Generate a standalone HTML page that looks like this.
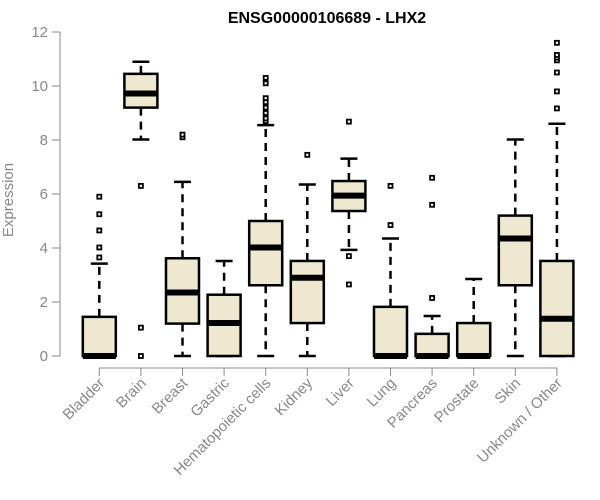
<!DOCTYPE html>
<html><head><meta charset="utf-8"><style>
body{margin:0;background:#fff}
svg{display:block;font-family:"Liberation Sans",Arial,sans-serif}
</style></head><body>
<svg id="chart" width="600" height="500" viewBox="0 0 600 500">
<text x="327" y="23" text-anchor="middle" font-size="16" font-weight="bold">ENSG00000106689 - LHX2</text>
<text transform="translate(13,200) rotate(-90)" text-anchor="middle" font-size="15" fill="#888">Expression</text>
<g id="axes"></g><g id="marks"></g>
</svg>
<script>
const categories=["Bladder","Brain","Breast","Gastric","Hematopoietic cells","Kidney","Liver","Lung","Pancreas","Prostate","Skin","Unknown / Other"];
const mins=[0,8.02,0,0,0,0,3.93,0,0,0,0,0];
const q1s=[0,9.2,1.2,0,2.62,1.22,5.37,0,0,0,2.62,0];
const medians=[0,9.72,2.35,1.22,4.02,2.9,5.94,0,0,0,4.35,1.38];
const q3s=[1.45,10.45,3.62,2.27,5.0,3.52,6.48,1.82,0.82,1.22,5.2,3.52];
const maxs=[3.42,10.9,6.45,3.52,8.55,6.35,7.31,4.35,1.48,2.85,8.02,8.6];
const outliers=[[3.65,4.02,4.65,5.25,5.9],[6.3,1.05,0],[8.1,8.2],[],[8.7,8.8,9.0,9.2,9.4,9.55,10.1,10.3],[7.45],[8.68,3.7,2.65],[4.85,6.3],[2.15,5.6,6.6],[],[],[9.17,9.8,10.5,10.95,11.05,11.15,11.6]];
const yTicks=[0,2,4,6,8,10,12];
const NS="http://www.w3.org/2000/svg";
const y=v=>356-v*27;
const x=i=>99.3+i*41.6;
const axes=document.getElementById('axes'),marks=document.getElementById('marks');
function mk(tag,attrs,parent){const e=document.createElementNS(NS,tag);for(const k in attrs)e.setAttribute(k,attrs[k]);parent.appendChild(e);return e;}
let yl=mk('line',{x1:60,x2:60,y1:y(0),y2:y(12),stroke:'#888'},axes);


yTicks.forEach(t=>{
  let l=mk('line',{x1:52,x2:60,y1:y(t),y2:y(t),stroke:'#888'},axes);
  
  
  let tx=mk('text',{x:48,y:y(t)+5,'text-anchor':'end','font-size':15,fill:'#888'},axes);
  tx.textContent=t;
  
  
});
let xl=mk('line',{x1:x(0),x2:x(categories.length-1),y1:368,y2:368,stroke:'#888'},axes);


const hw=16.5;
categories.forEach((c,i)=>{
  const cx=x(i);
  let t=mk('line',{x1:cx,x2:cx,y1:368,y2:376,stroke:'#888'},axes);
  
  
  let lb=mk('text',{transform:`translate(${cx+6},${384}) rotate(-45)`,'text-anchor':'end','font-size':15,fill:'#888'},axes);
  lb.textContent=c;
  
  
  const g=mk('g',{},marks);
  
  
  mk('line',{x1:cx,x2:cx,y1:y(q3s[i]),y2:y(maxs[i]),stroke:'#000','stroke-width':2.5,'stroke-dasharray':'8,6'},g);
  mk('line',{x1:cx,x2:cx,y1:y(q1s[i]),y2:y(mins[i]),stroke:'#000','stroke-width':2.5,'stroke-dasharray':'8,6'},g);
  mk('line',{x1:cx-8.5,x2:cx+8.5,y1:y(maxs[i]),y2:y(maxs[i]),stroke:'#000','stroke-width':2.5},g);
  mk('line',{x1:cx-8.5,x2:cx+8.5,y1:y(mins[i]),y2:y(mins[i]),stroke:'#000','stroke-width':2.5},g);
  mk('rect',{x:cx-hw,y:y(q3s[i]),width:hw*2,height:Math.max(0,y(q1s[i])-y(q3s[i])),fill:'#ede8cf',stroke:'#000','stroke-width':2.5},g);
  mk('line',{x1:cx-hw,x2:cx+hw,y1:y(medians[i]),y2:y(medians[i]),stroke:'#000','stroke-width':6},g);
  outliers[i].forEach(o=>{
    let p=mk('rect',{x:cx-2,y:y(o)-2,width:4,height:4,fill:'#fff',stroke:'#000','stroke-width':1.8},g);
    
    
  });
});
</script>
</body></html>
